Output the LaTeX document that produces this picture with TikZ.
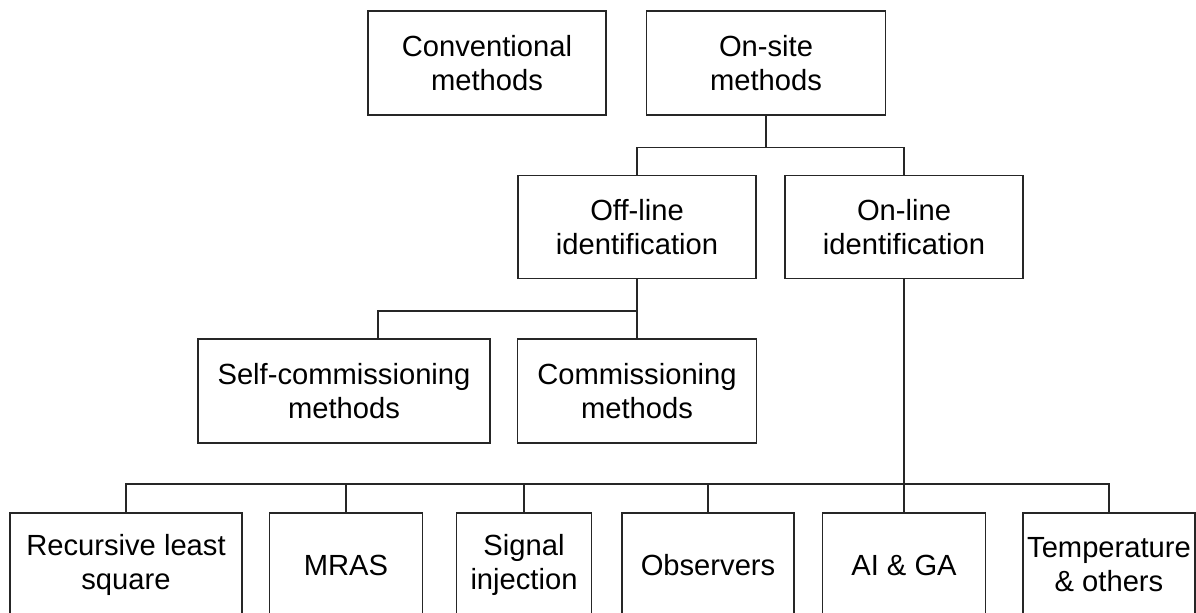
\documentclass[tikz,border=0pt]{standalone}
\usepackage{fontspec}
\setmainfont{Liberation Sans}
\begin{document}
\begin{tikzpicture}[x=0.02cm, y=-0.02cm, line width=0.75pt,
  box/.style={draw=black!85, align=center, inner sep=0pt, font=\fontsize{16.6}{19.3}\selectfont, minimum height=2.08cm},
  link/.style={draw=black!85}]
\useasboundingbox (0,0) rectangle (1196,612);
\clip (0,0) rectangle (1196,612);
% top row
\node[box, minimum width=4.76cm] (conv) at (487,63){Conventional\\methods};
\node[box, minimum width=4.78cm] (onsite) at (766,63){On-site\\methods};
% identification
\node[box, minimum width=4.76cm, minimum height=2.06cm] (offline) at (637,227){Off-line\\identification};
\node[box, minimum width=4.76cm, minimum height=2.06cm] (online) at (904,227){On-line\\identification};
\draw[link](onsite.south) -- ++(0,32) coordinate (bus0);
\draw[link](offline.north) |- (bus0) -| (online.north);
% off-line branch
\node[box, minimum width=5.84cm] (selfcomm) at (344,391){Self-commissioning\\methods};
\node[box, minimum width=4.78cm] (comm) at (637,391){Commissioning\\methods};
\draw[link](offline.south) -- (comm.north);
\coordinate (bus1) at (378,311);
\draw[link](offline.south |- bus1) -- (bus1) -- (bus1 |- selfcomm.north);
% on-line branch
\node[box, minimum width=4.64cm] (rls) at (126,565){Recursive least\\square};
\node[box, minimum width=3.06cm] (mras) at (346,565){MRAS};
\node[box, minimum width=2.70cm] (signal) at (524,565){Signal\\injection};
\node[box, minimum width=3.44cm] (obs) at (708,565){Observers};
\node[box, minimum width=3.26cm] (aiga) at (904,565){AI \& GA};
\node[box, minimum width=3.44cm] (temp) at (1109,565){Temperature\\\& others};
\draw[link](online.south) -- ++(0,205) coordinate (bus2);
\draw[link](rls.north) |- (bus2) -| (temp.north);
\foreach \n in {mras,signal,obs,aiga}
  \draw[link](\n.north) -- (\n.north |- bus2);
\end{tikzpicture}
\end{document}
